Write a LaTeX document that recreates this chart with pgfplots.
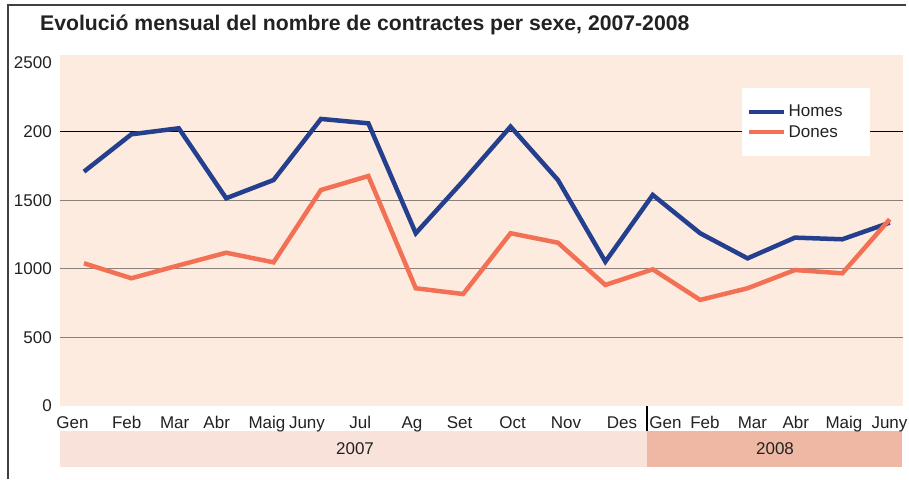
\documentclass[border=0pt]{standalone}
\usepackage{fontspec}
\setmainfont{Liberation Sans}
\usepackage{pgfplots}
\pgfplotsset{compat=1.18}
\definecolor{homes}{HTML}{253F8F}
\definecolor{dones}{HTML}{F27155}
\definecolor{bgpeach}{HTML}{FDEBDF}
\definecolor{band07}{HTML}{F8E2DA}
\definecolor{band08}{HTML}{EFB8A5}
\definecolor{gridgray}{HTML}{8A7F79}
\definecolor{txt}{HTML}{222222}
\begin{document}
\begin{tikzpicture}[x=1pt,y=1pt]
\useasboundingbox (0,0) rectangle (909,479);
\fill[white] (0,0) rectangle (909,479);
\draw[line width=1.5pt, color=black!75] (8,0) -- (8,474) -- (906,474);
\node[anchor=west, font=\fontsize{21.2}{24}\selectfont\bfseries, text=txt, inner sep=0pt] at (40,454) {Evolució mensual del nombre de contractes per sexe, 2007-2008};
\fill[band07] (60,12) rectangle (647,48);
\fill[band08] (647,12) rectangle (902,48);
\node[font=\fontsize{17}{20}\selectfont, text=txt] at (355,30) {2007};
\node[font=\fontsize{17}{20}\selectfont, text=txt] at (775,30) {2008};
\draw[line width=1.2pt, black] (647,48) -- (647,73);
\begin{axis}[
  at={(60pt,73pt)}, anchor=south west,
  scale only axis, width=843pt, height=351pt,
  xmin=-0.506, xmax=17.28, ymin=0, ymax=2558,
  axis background/.style={fill=bgpeach},
  axis line style={draw=none},
  major tick length=0pt,
  /pgf/number format/assume math mode=true,
  tick label style={font=\fontsize{17}{20}\selectfont, text=txt},
  ytick={0,500,1000,1500,2000,2500},
  yticklabels={0,500,1000,1500,200,2500},
  yticklabel style={anchor=east, inner sep=0pt, xshift=-8pt},
  xtick={-0.243,0.901,1.913,2.800,3.861,4.705,5.829,6.920,7.926,9.044,10.169,11.350,12.268,13.101,14.103,15.017,16.034,16.994},
  xticklabels={Gen,Feb,Mar,Abr,Maig,Juny,Jul,Ag,Set,Oct,Nov,Des,Gen,Feb,Mar,Abr,Maig,Juny},
  xticklabel style={anchor=base, inner sep=0pt, yshift=-22pt},
  legend style={at={(0.809,0.906)}, anchor=north west, draw=none, fill=white,
    font=\fontsize{17}{20}\selectfont, text=txt, inner xsep=5pt, inner ysep=15pt,
    row sep=3pt, legend cell align=left},
  legend image code/.code={\draw[#1] (0pt,0pt) -- (35pt,0pt);},
  clip=false,
]
\draw[gridgray, line width=1.3pt] (axis cs:-0.506,500) -- (axis cs:17.28,500);
\draw[gridgray, line width=1.3pt] (axis cs:-0.506,1000) -- (axis cs:17.28,1000);
\draw[gridgray, line width=1.3pt] (axis cs:-0.506,1500) -- (axis cs:17.28,1500);
\draw[black, line width=1.2pt] (axis cs:-0.506,2000) -- (axis cs:17.28,2000);
\addplot[homes, line width=4.5pt, line join=miter, no markers] coordinates {
(0,1708) (1,1980) (2,2024) (3,1514) (4,1647) (5,2092) (6,2060) (7,1259) (8,1640)
(9,2036) (10,1647) (11,1052) (12,1538) (13,1259) (14,1076) (15,1227) (16,1215) (17,1336)};
\addlegendentry{\makebox[74pt][l]{Homes}}
\addplot[dones, line width=4.5pt, line join=miter, no markers] coordinates {
(0,1040) (1,931) (2,1025) (3,1117) (4,1047) (5,1574) (6,1676) (7,858) (8,816)
(9,1259) (10,1190) (11,882) (12,996) (13,773) (14,858) (15,991) (16,967) (17,1361)};
\addlegendentry{\makebox[74pt][l]{Dones}}
\end{axis}
\end{tikzpicture}
\end{document}
